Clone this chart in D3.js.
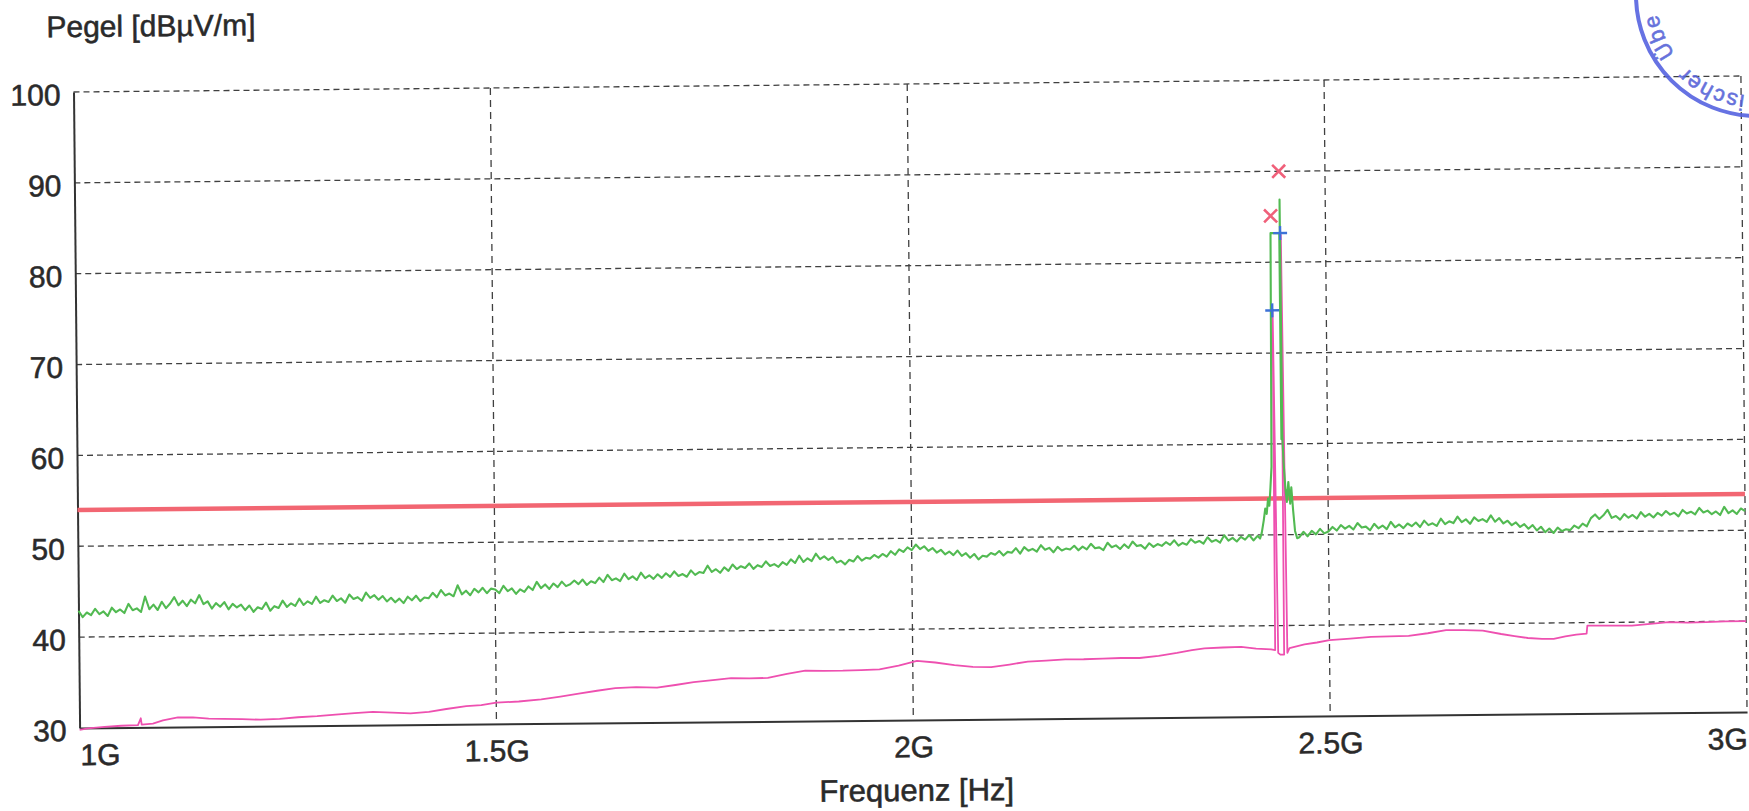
<!DOCTYPE html>
<html>
<head>
<meta charset="utf-8">
<script src="https://cdn.jsdelivr.net/npm/d3@7"></script>
<style>
html, body { margin: 0; padding: 0; background: #fff; }
svg { display: block; }
text { font-family: "Liberation Sans", Arial, sans-serif; fill: #2a2a2a; }
.lbl { stroke: #2a2a2a; stroke-width: 0.55px; }
</style>
</head>
<body>
<svg id="chart" width="1749" height="811"></svg>
<script>
// frequency axis in GHz, level in dBuV/m
var xTicks = [1, 1.5, 2, 2.5, 3];
var xTickLabels = ["1G", "1.5G", "2G", "2.5G", "3G"];
var yTicks = [30, 40, 50, 60, 70, 80, 90, 100];

// limit line
var limitFreq = [1, 3];
var limitLevel = [54, 54];

// peak trace (green), 5 MHz sweep points from 1.000 GHz
var peakLowStart = 1.0;
var peakStep = 0.005;
var peakLow = [
  42.9, 42.2, 42.7, 42.4, 43.1, 42.5, 42.8, 42.3, 43.2, 42.7, 43.0, 42.6, 43.6, 42.9, 43.1, 42.7, 44.4, 43.0, 43.5, 42.9,
  43.8, 43.1, 43.6, 44.3, 43.4, 43.9, 43.3, 44.0, 43.6, 44.5, 43.5, 43.8, 43.0, 43.6, 43.2, 43.7, 42.9, 43.5, 43.1, 43.4,
  42.8, 43.3, 42.6, 43.1, 42.9, 43.6, 42.7, 43.2, 43.0, 43.8, 43.1, 43.5, 43.2, 44.0, 43.3, 43.7, 43.4, 44.2, 43.5, 43.8,
  43.6, 44.3, 43.7, 44.0, 43.5, 44.4, 43.9, 44.1, 43.7, 44.6, 44.0, 44.3, 43.8, 44.2, 43.6, 44.0, 43.5, 43.9, 43.4, 44.1,
  43.7, 44.2, 43.6, 44.0, 43.9, 44.5, 44.0, 44.8, 44.2, 44.4, 44.1, 45.3, 44.3, 44.7, 44.2, 44.9, 44.5, 45.0, 44.4, 44.9,
  44.8, 44.4, 45.2, 44.6, 44.9, 44.3, 44.8, 44.5, 45.1, 44.7, 45.6, 44.9, 45.3, 44.8, 45.4, 45.0, 45.6, 45.1, 45.3, 45.7,
  45.3, 45.8, 45.2, 45.6, 45.4, 46.0, 45.5, 46.3, 45.7, 45.9, 45.6, 46.4, 45.8, 46.1, 45.7, 46.5, 45.9, 46.2, 45.8, 46.3,
  45.9, 46.4, 46.0, 46.6, 46.1, 46.3, 46.0, 46.7, 46.2, 46.5, 46.4, 47.2, 46.5, 46.8, 46.4, 47.0, 46.6, 47.3, 46.8, 47.1,
  46.9, 47.4, 46.8, 47.2, 47.0, 47.6, 47.1, 47.3, 47.0, 47.5, 47.2, 47.8, 47.4, 48.2, 47.5, 47.9, 47.6, 48.4, 47.8, 48.1,
  47.7, 48.0, 47.4, 47.6, 47.2, 47.7, 47.5, 48.1, 47.6, 47.9, 47.8, 48.2, 47.9, 48.3, 48.0, 48.6, 48.2, 48.8, 48.5, 49.0,
  48.7, 49.3, 48.8, 49.1, 48.6, 48.9, 48.4, 48.7, 48.2, 48.5, 48.1, 48.6, 48.0, 48.3, 47.8, 48.2, 47.6, 48.0, 47.9, 48.3,
  48.1, 48.5, 48.0, 48.4, 48.3, 48.8, 48.2, 48.9, 48.5, 48.7, 48.4, 49.1, 48.6, 48.8, 48.3, 48.9, 48.5, 48.7, 48.6, 49.0,
  48.5, 48.9, 48.6, 49.2, 48.7, 48.8, 48.5, 49.3, 48.8, 49.0, 48.6, 49.1, 48.7, 49.4, 48.9, 49.0, 48.6, 49.2, 48.8, 49.1,
  48.9, 49.3, 49.0, 49.5, 48.9, 49.2, 49.0, 49.6, 49.2, 49.4, 49.1, 49.8, 49.3, 49.5, 49.2, 50.0, 49.4, 49.7, 49.3, 49.8,
  49.5, 50.0, 49.4, 49.9
];
// emission around 2.44 GHz, irregular points
var spikeFreq = [2.418, 2.420, 2.4226, 2.4245, 2.4262, 2.428, 2.4295, 2.431, 2.4325, 2.434, 2.4445, 2.4447, 2.4452, 2.4458, 2.447, 2.449, 2.4505, 2.4525, 2.4545, 2.456, 2.458, 2.460, 2.4625];
var spikeLevel = [49.6, 50.2, 51.6, 52.9, 52.3, 54.0, 53.2, 55.2, 57.5, 83.2, 83.2, 60.5, 86.9, 61.0, 58.0, 55.0, 53.6, 55.8, 53.4, 55.2, 52.6, 50.4, 49.6];
var peakHighStart = 2.465;
var peakHigh = [
  49.7, 50.3, 49.8, 50.4, 50.0, 50.6, 50.1,
  50.3, 50.8, 50.4, 51.0, 50.6, 50.9, 50.5, 51.2, 50.7, 50.8, 50.4, 51.1, 50.6, 50.9, 50.5, 51.3, 50.7, 51.0, 50.6, 51.1,
  50.8, 51.2, 50.7, 51.4, 50.9, 51.1, 50.8, 51.6, 51.0, 51.3, 51.1, 51.8, 51.2, 51.5, 51.0, 51.7, 51.3, 51.5, 51.2, 51.9,
  51.2, 51.6, 51.0, 51.3, 50.8, 51.1, 50.6, 50.9, 50.4, 50.8, 50.2, 50.6, 50.0, 50.4, 49.9, 50.5, 50.1, 50.3, 50.2, 50.7,
  50.4, 50.9, 50.6, 51.5, 51.9, 51.4, 51.8, 52.4, 51.5, 51.7, 51.3, 51.9, 51.5, 51.8, 51.4, 52.1, 51.6, 51.9, 51.5, 52.0,
  51.7, 52.2, 51.8, 52.0, 51.6, 52.3, 51.9, 52.1, 51.8, 52.5, 52.0, 52.2, 51.8, 52.1, 51.7, 52.6, 51.9, 52.2, 51.8, 52.4, 52.1
];

// average trace (pink)
var avgFreq = [
  1.000, 1.010, 1.030, 1.050, 1.070, 1.0735, 1.0745, 1.088, 1.100, 1.118, 1.136, 1.155, 1.172, 1.195, 1.217, 1.240,
  1.262, 1.285, 1.307, 1.330, 1.352, 1.375, 1.397, 1.419, 1.440, 1.464, 1.482, 1.500, 1.527, 1.554, 1.577, 1.599,
  1.621, 1.643, 1.668, 1.693, 1.715, 1.737, 1.760, 1.782, 1.804, 1.826, 1.849, 1.871, 1.893, 1.916, 1.938, 1.960,
  1.983, 2.005, 2.027, 2.050, 2.072, 2.094, 2.116, 2.138, 2.160, 2.183, 2.205, 2.228, 2.250, 2.272, 2.295, 2.317,
  2.335, 2.350, 2.372, 2.394, 2.412, 2.430, 2.4348, 2.4356, 2.4384, 2.441, 2.4455, 2.4463, 2.4494, 2.452, 2.470, 2.485,
  2.500, 2.525, 2.550, 2.572, 2.595, 2.618, 2.640, 2.662, 2.684, 2.706, 2.722, 2.738, 2.755, 2.769, 2.783, 2.796,
  2.8085, 2.8095, 2.835, 2.863, 2.885, 2.907, 2.930, 2.952, 2.975, 3.000
];
var avgLevel = [
  29.8, 29.95, 30.1, 30.2, 30.25, 31.0, 30.3, 30.4, 30.75, 31.05, 31.05, 30.9, 30.85, 30.8, 30.72, 30.8,
  30.95, 31.05, 31.2, 31.35, 31.47, 31.35, 31.25, 31.4, 31.7, 32.0, 32.1, 32.34, 32.45, 32.67, 32.95, 33.26,
  33.55, 33.81, 33.9, 33.82, 34.1, 34.4, 34.6, 34.8, 34.75, 34.78, 35.2, 35.54, 35.5, 35.5, 35.55, 35.6,
  36.0, 36.5, 36.3, 36.0, 35.77, 35.74, 36.0, 36.3, 36.4, 36.5, 36.5, 36.56, 36.6, 36.58, 36.8, 37.1,
  37.4, 37.57, 37.65, 37.7, 37.5, 37.4, 37.3, 74.7, 37.0, 36.8, 36.8, 83.0, 37.0, 37.5, 37.9, 38.1,
  38.34, 38.5, 38.67, 38.7, 38.74, 39.0, 39.33, 39.3, 39.22, 38.84, 38.6, 38.37, 38.25, 38.24, 38.5, 38.7,
  38.8, 39.68, 39.65, 39.63, 39.8, 39.97, 39.9, 39.93, 40.0, 40.0
];

// final measurement markers
var peakMarkFreq = [2.4343, 2.4445];
var peakMarkLevel = [85.1, 90.0];
var avgMarkFreq = [2.4352, 2.4455];
var avgMarkLevel = [74.7, 83.2];

var svg = d3.select("#chart");

var x = d3.scaleLinear().domain([1, 3]).range([73.5, 1741]);
var y = d3.scaleLinear().domain([30, 100]).range([728, 92]);

// the scanned sheet is slightly rotated
var g = svg.append("g").attr("transform", "rotate(-0.55, 73, 92)");

// grid
g.append("g").selectAll("line")
  .data(yTicks.filter(function(d) { return d > 30; }))
  .enter().append("line")
  .attr("x1", x.range()[0]).attr("x2", x.range()[1])
  .attr("y1", function(d) { return y(d); }).attr("y2", function(d) { return y(d); })
  .attr("stroke", "#404040").attr("stroke-width", 1.3).attr("stroke-dasharray", "6,4");

g.append("g").selectAll("line")
  .data(xTicks.filter(function(d) { return d > 1; }))
  .enter().append("line")
  .attr("x1", function(d) { return x(d); }).attr("x2", function(d) { return x(d); })
  .attr("y1", y(100)).attr("y2", y(30))
  .attr("stroke", "#404040").attr("stroke-width", 1.3).attr("stroke-dasharray", "7,5");

// axes
var yAxis = d3.axisLeft(y).tickValues(yTicks).tickSize(0).tickPadding(13);
var ya = g.append("g").attr("transform", "translate(" + x.range()[0] + ",0)").call(yAxis);
ya.select(".domain").attr("stroke", "#333").attr("stroke-width", 2);
ya.selectAll("text").attr("class", "lbl").attr("dy", "0.42em").style("font-size", "30px")
  .style("font-family", "'Liberation Sans', Arial, sans-serif").attr("fill", "#2a2a2a");

var xAxis = d3.axisBottom(x).tickValues(xTicks)
  .tickFormat(function(d, i) { return xTickLabels[i]; })
  .tickSize(0).tickPadding(16);
var xa = g.append("g").attr("transform", "translate(0," + y(30) + ")").call(xAxis);
xa.select(".domain").attr("stroke", "#333").attr("stroke-width", 2);
xa.selectAll("text").attr("class", "lbl").style("font-size", "30px")
  .style("font-family", "'Liberation Sans', Arial, sans-serif").attr("fill", "#2a2a2a")
  .attr("text-anchor", function(d, i) { return i === 0 ? "start" : (i === xTicks.length - 1 ? "end" : "middle"); });

// axis titles
g.append("text").attr("class", "lbl").attr("x", 47).attr("y", 37).style("font-size", "30px").text("Pegel [dBµV/m]");
g.append("text").attr("class", "lbl").attr("x", 910).attr("y", 809).attr("text-anchor", "middle").style("font-size", "31px").text("Frequenz [Hz]");

var line = d3.line()
  .x(function(d) { return x(d[0]); })
  .y(function(d) { return y(d[1]); });

// limit
g.append("path")
  .datum(limitFreq.map(function(f, i) { return [f, limitLevel[i]]; }))
  .attr("d", line).attr("fill", "none").attr("stroke", "#f26672").attr("stroke-width", 4.5);

// average trace
g.append("path")
  .datum(avgFreq.map(function(f, i) { return [f, avgLevel[i]]; }))
  .attr("d", line).attr("fill", "none").attr("stroke", "#ee50b0").attr("stroke-width", 1.8)
  .attr("stroke-linejoin", "round");

// peak trace
var peakPts = [];
peakLow.forEach(function(v, i) { peakPts.push([peakLowStart + i * peakStep, v]); });
spikeFreq.forEach(function(f, i) { peakPts.push([f, spikeLevel[i]]); });
peakHigh.forEach(function(v, i) { peakPts.push([Math.min(3, peakHighStart + i * peakStep), v]); });

g.append("path")
  .datum(peakPts)
  .attr("d", line).attr("fill", "none").attr("stroke", "#52ba52").attr("stroke-width", 2.1)
  .attr("stroke-linejoin", "round");

// markers
var xs = 6.5;
var pm = g.append("g").selectAll("g")
  .data(peakMarkFreq.map(function(f, i) { return [f, peakMarkLevel[i]]; }))
  .enter().append("g")
  .attr("transform", function(d) { return "translate(" + x(d[0]) + "," + y(d[1]) + ")"; });
pm.append("path").attr("d", "M" + (-xs) + "," + (-xs) + "L" + xs + "," + xs + "M" + (-xs) + "," + xs + "L" + xs + "," + (-xs))
  .attr("stroke", "#f0607a").attr("stroke-width", 2.6).attr("fill", "none");

var ps = 7;
var am = g.append("g").selectAll("g")
  .data(avgMarkFreq.map(function(f, i) { return [f, avgMarkLevel[i]]; }))
  .enter().append("g")
  .attr("transform", function(d) { return "translate(" + x(d[0]) + "," + y(d[1]) + ")"; });
am.append("path").attr("d", "M" + (-ps) + ",0L" + ps + ",0M0," + (-ps) + "L0," + ps)
  .attr("stroke", "#3d72d6").attr("stroke-width", 2.4).attr("fill", "none");

// test house stamp in the corner
var cx = 1757, cy = -5, r = 101;
var stamp = svg.append("g").attr("opacity", 0.9);
stamp.append("circle").attr("cx", cx).attr("cy", cy).attr("r", 121)
  .attr("fill", "none").attr("stroke", "#5663e0").attr("stroke-width", 4);
stamp.append("path").attr("id", "stampArc").attr("fill", "none")
  .attr("d", "M" + cx + "," + (cy + r) + "A" + r + "," + r + " 0 0,1 " + (cx - r) + "," + cy +
             "A" + r + "," + r + " 0 0,1 " + cx + "," + (cy - r));
stamp.append("text").style("font-size", "22px").style("letter-spacing", "1.5px").style("word-spacing", "8px")
  .style("fill", "#5663d8").style("stroke", "#5663d8").style("stroke-width", "0.6px")
  .append("textPath").attr("href", "#stampArc").attr("startOffset", 12).text("ischer Übe");
</script>
</body>
</html>
